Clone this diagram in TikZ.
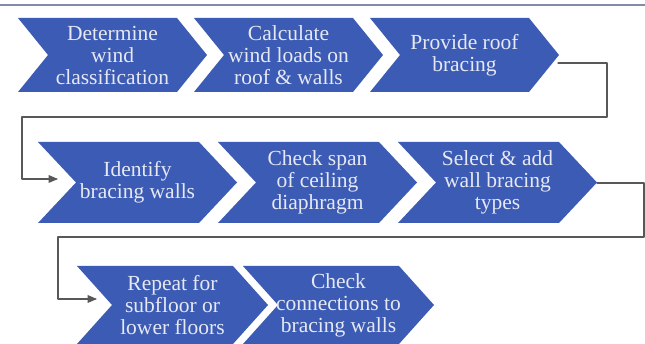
\documentclass[tikz,border=0pt]{standalone}
\usepackage{fontspec}
\setmainfont{Liberation Serif}
\usetikzlibrary{arrows}

\definecolor{bleuchev}{RGB}{60,91,180}
\definecolor{texteclair}{RGB}{230,233,243}
\definecolor{gristrait}{RGB}{88,88,88}
\definecolor{filettitre}{RGB}{130,140,165}

\tikzset{
  chevfill/.style={fill=bleuchev},
  etape/.style={text=texteclair, align=center, inner sep=0pt,
    font=\fontsize{21.5}{22}\selectfont},
  retour/.style={draw=gristrait, line width=1.2pt, ->}
}

% chevron : gauche, haut, largeur, hauteur, profondeur de pointe
\newcommand{\chevron}[5]{%
  \fill[chevfill] (#1,#2) -- ({#1+#3-#5},#2) -- ({#1+#3},{#2+#4/2})
    -- ({#1+#3-#5},{#2+#4}) -- (#1,{#2+#4}) -- ({#1+#5},{#2+#4/2}) -- cycle;}

\begin{document}
\begin{tikzpicture}[line cap=round,line join=round,>=triangle 45,x=1pt,y=-1pt]
			\useasboundingbox (0,0) rectangle (645,344);
			\fill[white] (0,0) rectangle (645,344);
			\draw[filettitre, line width=2pt] (0,5)--(645,5);
			%premiere rangee
			\chevron{18}{18}{189}{74}{30}
			\chevron{194}{18}{189}{74}{30}
			\chevron{370}{18}{189}{74}{30}
			\node[etape] (e1) at (112.5,55) {Determine\\wind\\classification};
			\node[etape] (e2) at (288.5,55) {Calculate\\wind loads on\\roof \& walls};
			\node[etape] (e3) at (464.5,55) {Provide roof\\bracing};
			%deuxieme rangee
			\chevron{38}{142}{199}{81}{38}
			\chevron{218}{142}{199}{81}{38}
			\chevron{398}{142}{199}{81}{38}
			\node[etape] (e4) at (137.5,182.5) {Identify\\bracing walls};
			\node[etape] (e5) at (317.5,182.5) {Check span\\of ceiling\\diaphragm};
			\node[etape] (e6) at (497.5,182.5) {Select \& add\\wall bracing\\types};
			%troisieme rangee
			\chevron{77}{266}{191}{78}{35}
			\chevron{243}{266}{191}{78}{35}
			\node[etape] (e7) at (172.5,305) {Repeat for\\subfloor or\\lower floors};
			\node[etape] (e8) at (338.5,305) {Check\\connections to\\bracing walls};
			%liaisons entre rangees
			\coordinate (s3) at (558,63);
			\coordinate (a4) at (58,179);
			\coordinate (s6) at (597,183);
			\coordinate (a7) at (97,299);
			\draw[retour] (s3) -- ++(49,0) |- (22,117) |- (a4);
			\draw[retour] (s6) -- ++(47,0) |- (58,237) |- (a7);
\end{tikzpicture}
\end{document}
